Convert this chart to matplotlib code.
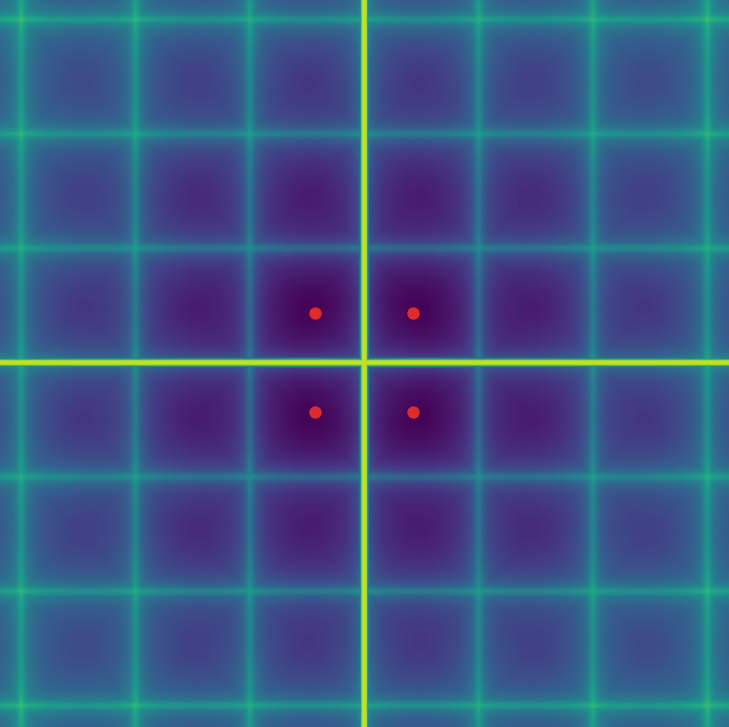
import numpy as np
import matplotlib
matplotlib.use("Agg")
import matplotlib.pyplot as plt

# grid lines (in cell units), central pair is the bright one
line_pos = [-3, -2, -1, 0, 1, 2, 3]
center_line = 0

# visible window in cell units
x_range = (-3.18, 3.185)
y_range = (-3.183, 3.166)

# floor level of the landscape vs distance from origin (viridis fraction)
radius_pts = [0.0, 0.6, 1.0, 1.6, 2.2, 2.9, 3.6, 4.6]
floor_lvl = [0.02, 0.0, 0.03, 0.08, 0.13, 0.19, 0.23, 0.27]

# ridge added near each grid line vs distance to line
ridge_d = [0.0, 0.01, 0.02, 0.035, 0.06, 0.1, 0.16, 0.25, 0.38, 0.5]
ridge_add = [0.29, 0.28, 0.25, 0.2, 0.15, 0.11, 0.07, 0.04, 0.012, 0.0]

# extra sharp peak on the central cross
peak_d = [0.0, 0.014, 0.022, 0.03, 0.042, 0.062]
peak_lvl = [0.92, 0.9, 0.8, 0.55, 0.3, 0.0]

# minima marked in red
pts_x = [-0.43, 0.43, -0.43, 0.43]
pts_y = [0.43, 0.43, -0.43, -0.43]

W, H = 729, 727
xs = np.linspace(x_range[0], x_range[1], W)
ys = np.linspace(y_range[1], y_range[0], H)
X, Y = np.meshgrid(xs, ys)

lines = np.array(line_pos, dtype=float)
dx = np.abs(X[..., None] - lines).min(-1)
dy = np.abs(Y[..., None] - lines).min(-1)

R = np.sqrt(X**2 + Y**2)
base = np.interp(R, radius_pts, floor_lvl)
gx = np.interp(dx, ridge_d, ridge_add)
gy = np.interp(dy, ridge_d, ridge_add)
Z = base + np.maximum(gx, gy) + 0.45 * np.minimum(gx, gy)

px = np.interp(np.abs(X - center_line), peak_d, peak_lvl)
py = np.interp(np.abs(Y - center_line), peak_d, peak_lvl)
Z = np.maximum(Z, np.maximum(px, py))

fig = plt.figure(figsize=(7.29, 7.27), dpi=100)
ax = fig.add_axes([0, 0, 1, 1])
ax.imshow(Z, cmap="viridis", vmin=0, vmax=1, origin="upper",
          extent=[x_range[0], x_range[1], y_range[0], y_range[1]],
          aspect="auto", interpolation="bilinear")
ax.scatter(pts_x, pts_y, s=80, color="#de2b2b", zorder=3, linewidths=0)
ax.set_xlim(*x_range)
ax.set_ylim(*y_range)
ax.axis("off")
fig.savefig("out.png", dpi=100)
